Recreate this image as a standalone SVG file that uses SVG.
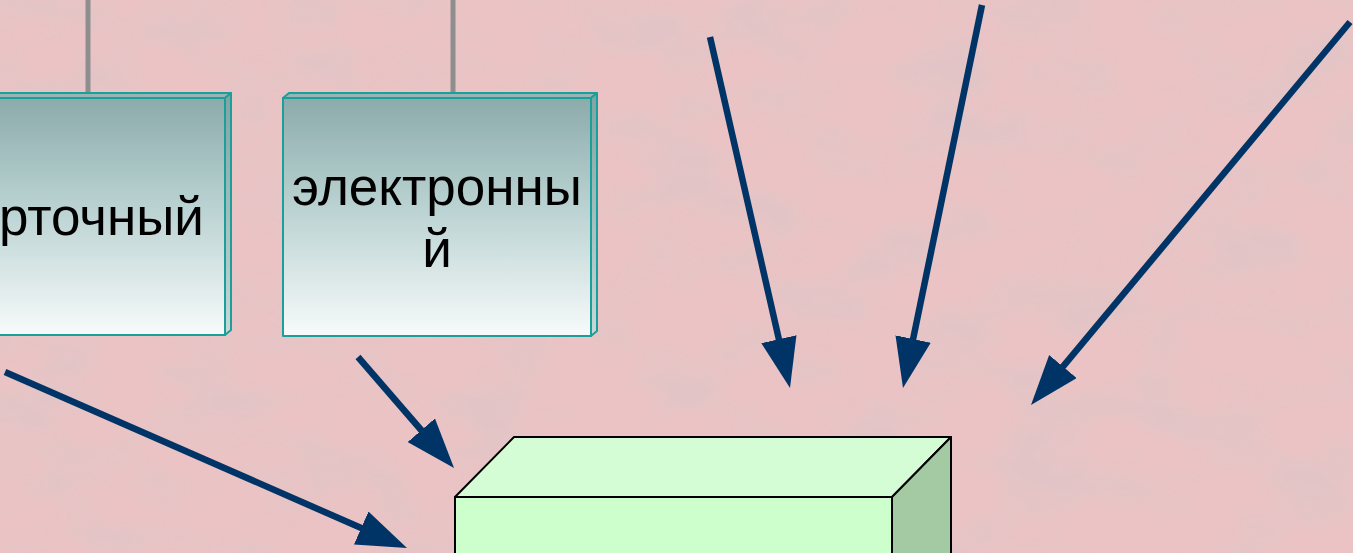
<svg xmlns="http://www.w3.org/2000/svg" width="1353" height="553" viewBox="0 0 1353 553">
<style>
.lbl{font-family:"Liberation Sans",Arial,sans-serif;font-size:53px;fill:#000;text-anchor:middle}
.card{stroke:#1b9f9b;stroke-width:2;stroke-linejoin:round}
.hang{stroke:#8e8e8e;stroke-width:5}
.arr{stroke:#003466;stroke-width:6.5;fill:none;marker-end:url(#ah)}
.cube{stroke:#000;stroke-width:2;stroke-linejoin:round}
</style>
<defs>
<linearGradient id="cardg" x1="0" y1="0" x2="0" y2="1">
<stop offset="0" stop-color="#8cabab"/>
<stop offset="0.45" stop-color="#b9d1d1"/>
<stop offset="1" stop-color="#f7fafa"/>
</linearGradient>
<linearGradient id="sideg" x1="0" y1="0" x2="0" y2="1">
<stop offset="0" stop-color="#7fa3a3"/>
<stop offset="1" stop-color="#c8d8d8"/>
</linearGradient>
<marker id="ah" markerUnits="userSpaceOnUse" markerWidth="50" markerHeight="36" refX="5" refY="18" orient="auto" viewBox="0 0 50 36">
<path d="M0,0 L50,18 L0,36 z" fill="#003466"/>
</marker>
<filter id="tex" x="0" y="0" width="100%" height="100%">
<feTurbulence type="fractalNoise" baseFrequency="0.011 0.018" numOctaves="3" seed="7" result="n"/>
<feColorMatrix in="n" type="matrix" values="0 0 0 0 0.76  0 0 0 0 0.56  0 0 0 0 0.57  3 0 0 0 -1.2"/>
</filter>
</defs>
<g id="background">
<rect x="0" y="0" width="1353" height="553" fill="#ebc3c4"/>
<rect x="0" y="0" width="1353" height="553" filter="url(#tex)" opacity="0.85"/>
</g>
<g id="hangers">
<line class="hang" x1="88" y1="0" x2="88" y2="94"/>
<line class="hang" x1="453" y1="0" x2="453" y2="94"/>
</g>
<g id="card-kartochny">
<polygon class="card" points="-83,98 -77,93 231,93 225,98" fill="#96b6b6"/>
<polygon class="card" points="225,98 231,93 231,330 225,335" fill="url(#sideg)"/>
<rect class="card" x="-83" y="98" width="308" height="237" fill="url(#cardg)"/>
<text class="lbl" x="-1" y="235" style="text-anchor:start">рточный</text>
</g>
<g id="card-elektronny">
<polygon class="card" points="283,98 289,93 597,93 591,98" fill="#96b6b6"/>
<polygon class="card" points="591,98 597,93 597,331 591,336" fill="url(#sideg)"/>
<rect class="card" x="283" y="98" width="308" height="238" fill="url(#cardg)"/>
<text class="lbl" x="437" y="205">электронны</text>
<text class="lbl" x="437" y="267">й</text>
</g>
<g id="cube">
<polygon class="cube" points="455,497 514,437 951,437 892,497" fill="#d5fdd5"/>
<polygon class="cube" points="892,497 951,437 951,600 892,600" fill="#a3caa3"/>
<rect class="cube" x="455" y="497" width="437" height="110" fill="#ccffcc"/>
</g>
<g id="connectors">
<line class="arr" x1="5" y1="372" x2="365.8" y2="530"/>
<line class="arr" x1="358" y1="357" x2="424.6" y2="434"/>
<line class="arr" x1="710" y1="37" x2="780" y2="344.1"/>
<line class="arr" x1="982" y1="5" x2="912.1" y2="343.9"/>
<line class="arr" x1="1350" y1="22" x2="1059.8" y2="370.4"/>
</g>
</svg>
